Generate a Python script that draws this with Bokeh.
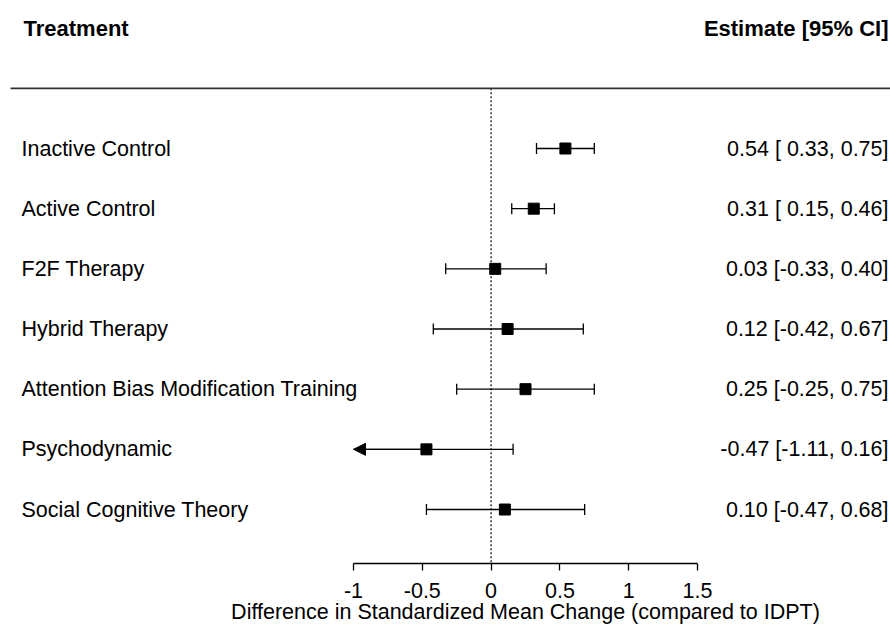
from bokeh.plotting import figure
from bokeh.models import (ColumnDataSource, Range1d, LinearAxis, FixedTicker,
                          Arrow, NormalHead)
from bokeh.core.properties import value
from bokeh.embed import file_html
from bokeh.resources import INLINE

# ---------------- data ----------------
treatments = ["Inactive Control", "Active Control", "F2F Therapy", "Hybrid Therapy",
              "Attention Bias Modification Training", "Psychodynamic",
              "Social Cognitive Theory"]
estimates = [0.54, 0.31, 0.03, 0.12, 0.25, -0.47, 0.10]
ci_lower = [0.33, 0.15, -0.33, -0.42, -0.25, -1.11, -0.47]
ci_upper = [0.75, 0.46, 0.40, 0.67, 0.75, 0.16, 0.68]
tick_values = [-1, -0.5, 0, 0.5, 1, 1.5]
tick_labels = ["-1", "-0.5", "0", "0.5", "1", "1.5"]
header_left = "Treatment"
header_right = "Estimate [95% CI]"
x_title = "Difference in Standardized Mean Change (compared to IDPT)"

# ---------------- layout ----------------
FONT = "Liberation Sans"
FS = "21.5px"
W, H = 890, 626
px_per_unit = 137.6
alim = (tick_values[0], tick_values[-1])
xl = alim[0] - 353 / px_per_unit
xr = xl + W / px_per_unit
k = len(treatments)
row_px = 60.17
yt = k + 148 / row_px
yb = yt - H / row_px
y_axis_line = yt - 563 / row_px
y_title = yt - 611 / row_px
x_left_text = xl + 21 / px_per_unit
x_right_text = xl + 888 / px_per_unit

ys = [k - i for i in range(k)]
ann = [f"{e:.2f} [{lo:5.2f}, {hi:.2f}]" for e, lo, hi in zip(estimates, ci_lower, ci_upper)]

p = figure(width=W, height=H, x_range=Range1d(xl, xr), y_range=Range1d(yb, yt),
           x_axis_type=None, y_axis_type=None, toolbar_location=None,
           output_backend="svg", min_border_left=0, min_border_right=0,
           min_border_top=0, min_border_bottom=0, outline_line_color=None)
p.background_fill_color = "white"
p.border_fill_color = "white"

# header + rule
p.text(x=[x_left_text + 2 / px_per_unit], y=[k + 2], text=[header_left],
       text_font=value(FONT), text_font_size="22px", text_font_style="bold",
       text_baseline="middle", text_align="left", text_color="black")
p.text(x=[x_right_text], y=[k + 2], text=[header_right], text_font=value(FONT),
       text_font_size="22px", text_font_style="bold", text_baseline="middle",
       text_align="right", text_color="black")
p.segment(x0=[xl + 10 / px_per_unit], x1=[xr], y0=[k + 1], y1=[k + 1],
          line_color="#333333", line_width=1.6)

# reference line at 0
p.segment(x0=[0], x1=[0], y0=[k + 1], y1=[y_axis_line], line_color="#333333",
          line_width=1.5, line_dash="2 2")

# CI lines
src = ColumnDataSource(dict(
    y=ys, est=estimates,
    lo=[max(v, alim[0]) for v in ci_lower],
    hi=[min(v, alim[1]) for v in ci_upper],
    label=treatments, ann=ann))
p.segment(x0="lo", x1="hi", y0="y", y1="y", source=src, line_color="black",
          line_width=1.3)

# caps for non-truncated ends
cap_x, cap_y = [], []
for y, lo, hi in zip(ys, ci_lower, ci_upper):
    if lo >= alim[0]:
        cap_x.append(lo); cap_y.append(y)
    if hi <= alim[1]:
        cap_x.append(hi); cap_y.append(y)
p.scatter(x=cap_x, y=cap_y, marker="dash", angle=1.5708, size=11,
          line_color="black", line_width=1.3)

# arrows for truncated ends
arr_src = ColumnDataSource(dict(
    xs=[e for e, lo in zip(estimates, ci_lower) if lo < alim[0]],
    xe=[alim[0] for lo in ci_lower if lo < alim[0]],
    y=[y for y, lo in zip(ys, ci_lower) if lo < alim[0]]))
p.add_layout(Arrow(end=NormalHead(size=12, fill_color="black", line_color="black",
                                  line_width=1),
                   x_start="xs", y_start="y", x_end="xe", y_end="y",
                   source=arr_src, line_color="black", line_width=1.3))

# point estimates
p.scatter(x="est", y="y", source=src, marker="square", size=11,
          fill_color="black", line_color="black")

# row labels and annotations
p.text(x=x_left_text, y="y", text="label", source=src, text_font=value(FONT),
       text_font_size=FS, text_baseline="middle", text_align="left",
       text_color="black")
p.text(x=x_right_text, y="y", text="ann", source=src, text_font=value(FONT),
       text_font_size=FS, text_baseline="middle", text_align="right",
       text_color="black")

# x axis (drawn inside the frame at a fixed data location)
xaxis = LinearAxis(ticker=FixedTicker(ticks=tick_values), bounds=alim,
                   fixed_location=y_axis_line)
xaxis.major_label_overrides = {v: s for v, s in zip(tick_values, tick_labels)}
xaxis.major_tick_out = 7
xaxis.major_tick_in = 0
xaxis.minor_tick_out = 0
xaxis.minor_tick_in = 0
xaxis.axis_line_color = "black"
xaxis.axis_line_width = 1.3
xaxis.major_tick_line_color = "black"
xaxis.major_tick_line_width = 1.3
xaxis.major_label_text_font = FONT
xaxis.major_label_text_font_size = FS
xaxis.major_label_text_color = "black"
xaxis.major_label_standoff = 12
p.add_layout(xaxis, "below")

# axis title, centred on the axis range
p.text(x=[sum(alim) / 2], y=[y_title], text=[x_title], text_font=value(FONT),
       text_font_size=FS, text_baseline="middle", text_align="center",
       text_color="black")

p.grid.visible = False

open("out.html", "w").write(file_html(p, INLINE))
